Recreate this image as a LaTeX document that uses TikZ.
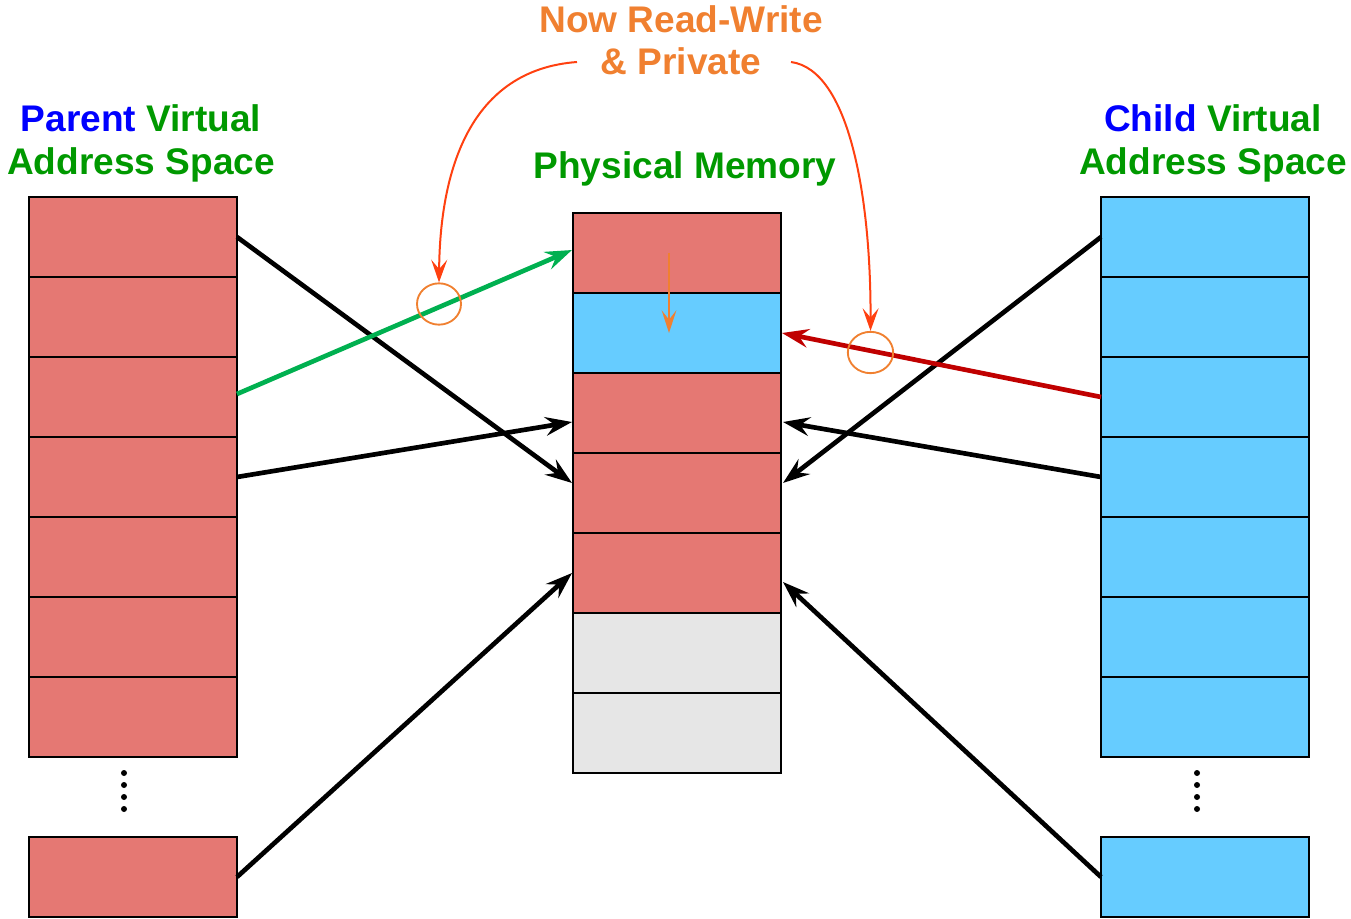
\documentclass[tikz,border=0pt]{standalone}
\usepackage{fontspec}
\setmainfont{Liberation Sans}
\usetikzlibrary{arrows.meta,calc,shapes.geometric}
\definecolor{boxred}{HTML}{E57873}
\definecolor{boxblue}{HTML}{66CCFF}
\definecolor{boxgray}{HTML}{E6E6E6}
\definecolor{ttgreen}{HTML}{009900}
\definecolor{ttblue}{HTML}{0000FF}
\definecolor{ttorange}{HTML}{F08030}
\definecolor{curvecol}{HTML}{FF4010}
\definecolor{grarrow}{HTML}{00B050}
\definecolor{rdarrow}{HTML}{C00000}
\tikzset{
  cell/.style={draw=black, line width=1.5pt, minimum width=156pt, minimum height=60pt, inner sep=0pt, outer sep=0pt},
  redcell/.style={cell, fill=boxred},
  bluecell/.style={cell, fill=boxblue},
  graycell/.style={cell, fill=boxgray},
  title/.style={font=\fontsize{27.8}{32.25}\selectfont\bfseries, inner sep=0pt, anchor=base},
  bigarrow/.style={line width=3.5pt, -{Stealth[length=20pt, width=14pt, inset=7pt]}},
  curvearrow/.style={draw=curvecol, line width=1.5pt, -{Stealth[length=17pt, width=12pt, inset=7pt]}},
  dotmark/.style={fill=black, draw=none, circle, minimum size=4.5pt, inner sep=0pt},
  hilite/.style={draw=ttorange, line width=1.4pt, ellipse, inner sep=0pt}
}
\begin{document}
\begin{tikzpicture}[x=0.75pt, y=-0.75pt]
\useasboundingbox (0,0) rectangle (1351,919);
% titles
\node[title] (pt1) at (141,132) {\textcolor{ttblue}{Parent} \textcolor{ttgreen}{Virtual}};
\node[title] (pt2) at (141,175) {\textcolor{ttgreen}{Address Space}};
\node[title] (ct1) at (1213,132) {\textcolor{ttblue}{Child} \textcolor{ttgreen}{Virtual}};
\node[title] (ct2) at (1213,175) {\textcolor{ttgreen}{Address Space}};
\node[title] (mt) at (685,179) {\textcolor{ttgreen}{Physical Memory}};
\node[title] (ot1) at (681,33) {\textcolor{ttorange}{Now Read-Write}};
\node[title] (ot2) at (681,75) {\textcolor{ttorange}{\& Private}};
% side columns
\foreach \i in {1,...,7} {
  \node[redcell] (L\i) at (133,{157+80*\i}) {};
  \node[bluecell] (R\i) at (1205,{157+80*\i}) {};
}
\node[redcell] (LB) at (133,877) {};
\node[bluecell] (RB) at (1205,877) {};
% middle
\node[redcell] (M1) at (677,253) {};
\node[bluecell] (M2) at (677,333) {};
\node[redcell] (M3) at (677,413) {};
\node[redcell] (M4) at (677,493) {};
\node[redcell] (M5) at (677,573) {};
\node[graycell] (M6) at (677,653) {};
\node[graycell] (M7) at (677,733) {};
% dots
\foreach \y [count=\k] in {773,785,797,809} {
  \node[dotmark] (ld\k) at (124,\y) {};
  \node[dotmark] (rd\k) at (1197,\y) {};
}
% arrows left
\draw[bigarrow] (L1.east) -- ($(M4.west)+(-1,-10)$);
\draw[bigarrow] (L4.east) -- ($(M3.west)+(-1,9)$);
\draw[bigarrow] (LB.east) -- ($(M5.west)+(-1,0)$);
\draw[bigarrow, draw=grarrow] ($(L3.east)+(0,-3)$) -- ($(M1.west)+(-1,-3)$);
% arrows right
\draw[bigarrow] (R1.west) -- ($(M4.east)+(2,-10)$);
\draw[bigarrow] (R4.west) -- ($(M3.east)+(2,9)$);
\draw[bigarrow] (RB.west) -- ($(M5.east)+(2,9)$);
\draw[bigarrow, draw=rdarrow] (R3.west) -- ($(M2.east)+(1,0)$);
% small orange arrow
\coordinate (os) at (669,253);
\coordinate (oe) at (669,333);
\draw[draw=ttorange, line width=1.6pt, -{Stealth[length=17pt, width=11pt, inset=7pt]}] (os) -- (oe);
% highlight circles
\node[hilite, minimum width=33pt, minimum height=31pt] (c1) at (439,304) {};
\node[hilite, minimum width=34pt, minimum height=31pt] (c2) at (870.5,352.5) {};
% curved arrows
\coordinate (cs1) at (577,62);
\coordinate (cs2) at (791,62);
\draw[curvearrow] (cs1) .. controls (470,70) and (440,170) .. (c1.north);
\draw[curvearrow] (cs2) .. controls (850,70) and (871,200) .. (c2.north);
\end{tikzpicture}
\end{document}
